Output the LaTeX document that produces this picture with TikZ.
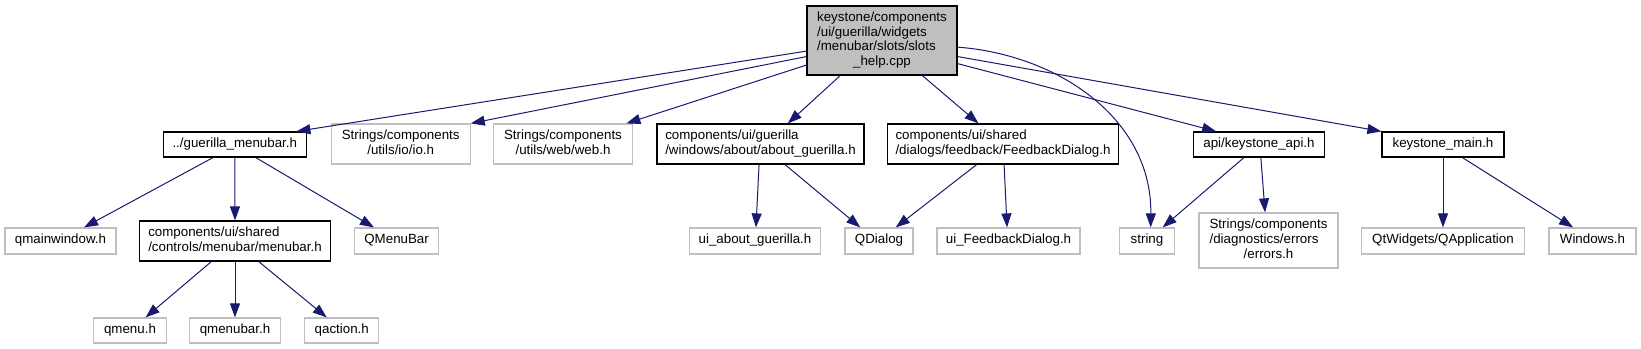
\documentclass[tikz,border=0pt]{standalone}
\usepackage{fontspec}
\setmainfont{Liberation Sans}
\usepackage{tikz}
\usetikzlibrary{arrows.meta}
\definecolor{edgeblue}{HTML}{191970}
\definecolor{boxgray}{HTML}{BFBFBF}
\tikzset{
  filebox/.style={rectangle, inner sep=0pt, font=\fontsize{10}{11}\selectfont, execute at begin node=\strut},
  root/.style={filebox, draw=black, fill=boxgray, line width=0.9pt},
  header/.style={filebox, draw=black, fill=white, line width=0.9pt},
  sysheader/.style={filebox, draw=boxgray, fill=white, line width=0.9pt},
  arrow/.style={draw=edgeblue, line width=0.75pt, -{Triangle[length=10.5pt,width=7.5pt]}}
}
% lines left aligned, last line centred
\newcommand{\doxlabel}[2]{\begin{tabular}{@{}l@{}}#1\\\multicolumn{1}{@{}c@{}}{#2}\end{tabular}}

\begin{document}
\begin{tikzpicture}[x=0.75pt,y=-0.75pt]
    \useasboundingbox (0,0) rectangle (1641,349);

    % 1. Archivo principal
    \node[root, minimum width=112.5pt, minimum height=51.75pt] (main) at (882,40.5)
        {\doxlabel{keystone/components\\/ui/guerilla/widgets\\/menubar/slots/slots}{\_help.cpp}};

    % 2. Primer nivel
    \node[header, minimum width=107.25pt, minimum height=18.75pt] (gmenubar) at (234.8,144.5) {../guerilla\_menubar.h};
    \node[sysheader, minimum width=104.25pt, minimum height=30pt] (io) at (400.7,144) {\doxlabel{Strings/components}{/utils/io/io.h}};
    \node[sysheader, minimum width=104.25pt, minimum height=30pt] (web) at (563,144) {\doxlabel{Strings/components}{/utils/web/web.h}};
    \node[header, minimum width=155.25pt, minimum height=30pt] (about) at (760.5,144) {\doxlabel{components/ui/guerilla}{/windows/about/about\_guerilla.h}};
    \node[header, minimum width=173.25pt, minimum height=30pt] (feedback) at (1003,144) {\doxlabel{components/ui/shared}{/dialogs/feedback/FeedbackDialog.h}};
    \node[header, minimum width=98.25pt, minimum height=18.75pt] (api) at (1259,144.5) {api/keystone\_api.h};
    \node[header, minimum width=91.5pt, minimum height=18.75pt] (kmain) at (1443,144.5) {keystone\_main.h};

    % 3. Segundo nivel
    \node[sysheader, minimum width=83.25pt, minimum height=19.5pt] (qmainwindow) at (60.5,241) {qmainwindow.h};
    \node[header, minimum width=143.25pt, minimum height=30pt] (menubar) at (235,241) {\doxlabel{components/ui/shared}{/controls/menubar/menubar.h}};
    \node[sysheader, minimum width=63pt, minimum height=19.5pt] (qmenubarcls) at (396.6,241) {QMenuBar};
    \node[sysheader, minimum width=98.25pt, minimum height=19.5pt] (uiabout) at (755,241) {ui\_about\_guerilla.h};
    \node[sysheader, minimum width=51pt, minimum height=19.5pt] (qdialog) at (879,241) {QDialog};
    \node[sysheader, minimum width=107.25pt, minimum height=19.5pt] (uifeedback) at (1008.5,241) {ui\_FeedbackDialog.h};
    \node[sysheader, minimum width=41.25pt, minimum height=19.5pt] (string) at (1147,241) {string};
    \node[sysheader, minimum width=104.25pt, minimum height=41.25pt] (errors) at (1268.5,240.5) {\doxlabel{Strings/components\\/diagnostics/errors}{/errors.h}};
    \node[sysheader, minimum width=122.25pt, minimum height=19.5pt] (qapp) at (1443,241) {QtWidgets/QApplication};
    \node[sysheader, minimum width=65.25pt, minimum height=19.5pt] (windows) at (1592.5,241) {Windows.h};

    % 4. Tercer nivel
    \node[sysheader, minimum width=54.4pt, minimum height=18.75pt] (qmenu) at (130,330.5) {qmenu.h};
    \node[sysheader, minimum width=68.25pt, minimum height=18.75pt] (qmenubarh) at (235,330.5) {qmenubar.h};
    \node[sysheader, minimum width=55.5pt, minimum height=18.75pt] (qaction) at (341.8,330.5) {qaction.h};

    % 5. Dependencias
    \draw[arrow] (main.188) -- (gmenubar.12.5);
    \draw[arrow] (main.192.4) -- (io.north east);
    \draw[arrow] (main.198.8) -- (web.18.2);
    \draw[arrow] (main.220.1) -- (about.37.7);
    \draw[arrow] (main.319.2) -- (feedback.140.2);
    \draw[arrow] (main.-5) .. controls (1060,55) and (1152,120) .. (string.75);
    \draw[arrow] (main.343.5) -- (api.163.8);
    \draw[arrow] (main.348.3) -- (kmain.north west);

    \draw[arrow] (gmenubar.211) -- (qmainwindow.30);
    \draw[arrow] (gmenubar.south) -- (menubar.north);
    \draw[arrow] (gmenubar.328.3) -- (qmenubarcls.149);
    \draw[arrow] (menubar.221) -- (qmenu.40.6);
    \draw[arrow] (menubar.south) -- (qmenubarh.north);
    \draw[arrow] (menubar.319) -- (qaction.139.8);

    \draw[arrow] (about.266) -- (uiabout.86);
    \draw[arrow] (about.320.2) -- (qdialog.144.2);
    \draw[arrow] (feedback.218.7) -- (qdialog.39);
    \draw[arrow] (feedback.273) -- (uifeedback.96.6);

    \draw[arrow] (api.221.8) -- (string.41.7);
    \draw[arrow] (api.278) -- (errors.97.3);
    \draw[arrow] (kmain.south) -- (qapp.north);
    \draw[arrow] (kmain.326.7) -- (windows.145.3);
\end{tikzpicture}
\end{document}
